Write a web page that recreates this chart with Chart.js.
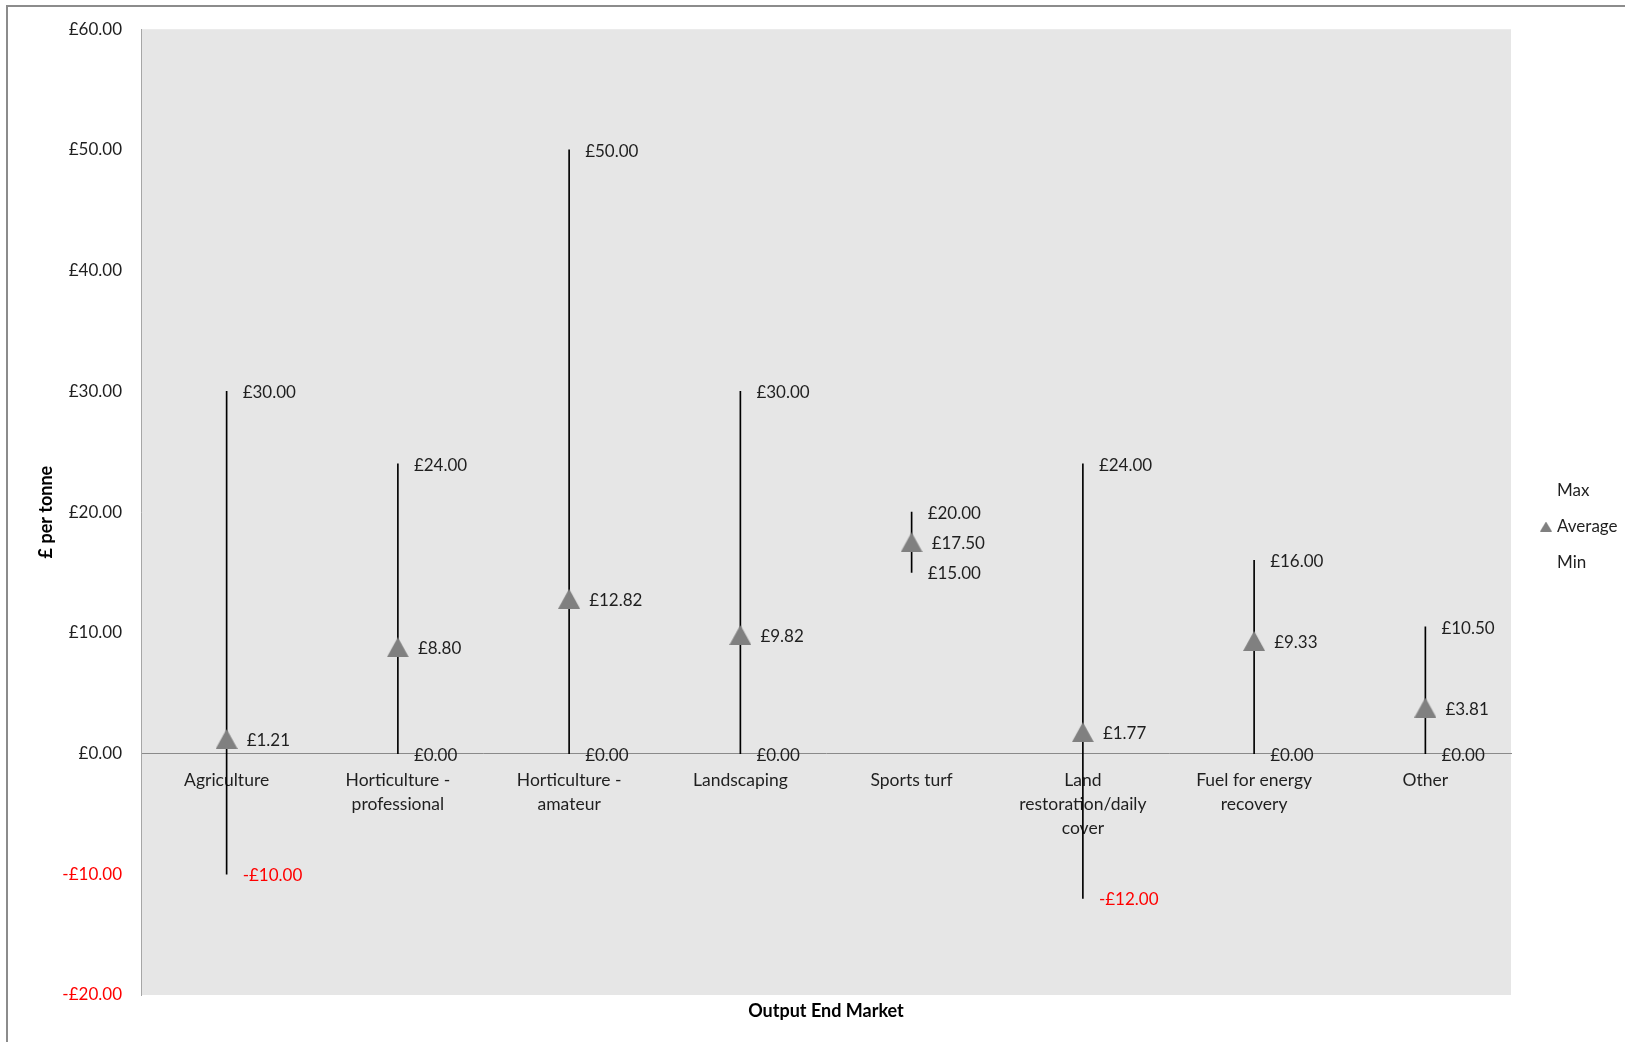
<!DOCTYPE html>
<html>
<head>
<meta charset="utf-8">
<title>Gate fees by output end market</title>
<script src="https://cdn.jsdelivr.net/npm/chart.js@4.4.1/dist/chart.umd.min.js"></script>
<style>
  html, body { margin: 0; padding: 0; background: #ffffff; }
  #wrap { width: 1625px; height: 1042px; }
  canvas { display: block; }
</style>
</head>
<body>
<div id="wrap"><canvas id="chart" width="1625" height="1042"></canvas></div>
<script>
// ---- data -------------------------------------------------------------
const categories = [
  'Agriculture',
  ['Horticulture -', 'professional'],
  ['Horticulture -', 'amateur'],
  'Landscaping',
  'Sports turf',
  ['Land', 'restoration/daily', 'cover'],
  ['Fuel for energy', 'recovery'],
  'Other'
];
const maxValues     = [30.00, 24.00, 50.00, 30.00, 20.00, 24.00, 16.00, 10.50];
const averageValues = [1.21, 8.80, 12.82, 9.82, 17.50, 1.77, 9.33, 3.81];
const minValues     = [-10.00, 0.00, 0.00, 0.00, 15.00, -12.00, 0.00, 0.00];
const yAxisRange    = [-20, 60];
const yAxisStep     = 10;
const seriesNames   = ['Max', 'Average', 'Min'];

// ---- styling ----------------------------------------------------------
const FONT = 'Lato';
const TEXT = '#1f1f1f';
const NEG = '#ff0000';
const MARKER = '#808080';

const money = v => (v < 0 ? '-£' : '£') + Math.abs(v).toFixed(2);

function triangleImage(w, h, color) {
  const c = document.createElement('canvas');
  c.width = w; c.height = h;
  const g = c.getContext('2d');
  g.fillStyle = color;
  g.beginPath();
  g.moveTo(w / 2, 0);
  g.lineTo(w, h);
  g.lineTo(0, h);
  g.closePath();
  g.fill();
  return c;
}
const bigTriangle = triangleImage(22, 20, MARKER);
const smallTriangle = triangleImage(12, 10, MARKER);
const blankMark = document.createElement('canvas');
blankMark.width = 1; blankMark.height = 1;

// Page frame and grey plot area
const frameAndPlot = {
  id: 'frameAndPlot',
  beforeDraw(chart) {
    const { ctx, chartArea: a } = chart;
    ctx.save();
    ctx.fillStyle = '#ffffff';
    ctx.fillRect(0, 0, chart.width, chart.height);
    ctx.fillStyle = '#e6e6e6';
    ctx.fillRect(a.left, a.top, a.right - a.left, a.bottom - a.top);
    ctx.strokeStyle = '#8c8c8c';
    ctx.lineWidth = 2;
    ctx.strokeRect(7, 6, chart.width + 50, chart.height + 50);
    ctx.restore();
  }
};

// Value labels beside the max / average / min points
const valueLabels = {
  id: 'valueLabels',
  afterDatasetsDraw(chart) {
    const ctx = chart.ctx;
    ctx.save();
    ctx.font = '17px ' + FONT;
    ctx.textAlign = 'left';
    ctx.textBaseline = 'middle';
    [[1, 16], [2, 20], [3, 16]].forEach(([di, dx]) => {
      const meta = chart.getDatasetMeta(di);
      const values = chart.data.datasets[di].data;
      meta.data.forEach((pt, i) => {
        const v = values[i];
        ctx.fillStyle = v < 0 ? NEG : TEXT;
        ctx.fillText(money(v), pt.x + dx, pt.y + 1.5);
      });
    });
    ctx.restore();
  }
};

// Sit the legend a little clear of the plot area, running to the page edge
const legendOffset = {
  id: 'legendOffset',
  afterLayout(chart) {
    const lg = chart.legend;
    if (!lg) return;
    lg.left += 13.5;
    lg.right = chart.width;
    lg.width = lg.right - lg.left;
    lg.top -= 3; lg.bottom -= 3;
  }
};

function build() {
  Chart.defaults.font.family = FONT;
  Chart.defaults.color = TEXT;

  new Chart(document.getElementById('chart'), {
    type: 'bar',
    data: {
      labels: categories,
      datasets: [
        {
          type: 'bar',
          label: 'High-Low',
          data: maxValues.map((v, i) => [minValues[i], v]),
          backgroundColor: '#000000',
          borderWidth: 0,
          barThickness: 1,
          order: 5
        },
        {
          type: 'line', label: seriesNames[0], data: maxValues,
          showLine: false, pointRadius: 0, pointHoverRadius: 0, order: 1
        },
        {
          type: 'line', label: seriesNames[1], data: averageValues,
          showLine: false, pointStyle: bigTriangle, pointRadius: 12, order: 1
        },
        {
          type: 'line', label: seriesNames[2], data: minValues,
          showLine: false, pointRadius: 0, pointHoverRadius: 0, order: 1
        }
      ]
    },
    options: {
      responsive: false,
      animation: false,
      events: [],
      layout: { padding: { left: 20, top: 29, right: 24, bottom: 12 } },
      scales: {
        x: {
          type: 'category',
          position: { y: 0 },
          offset: true,
          grid: { display: false, drawTicks: false },
          border: { display: true, color: '#8a8a8a', width: 1 },
          ticks: {
            autoSkip: false, maxRotation: 0, minRotation: 0,
            padding: 15,
            color: TEXT,
            font: { family: FONT, size: 17.5, lineHeight: '24px' }
          }
        },
        y: {
          min: yAxisRange[0],
          max: yAxisRange[1],
          grid: { display: false, drawTicks: false },
          border: { display: true, color: '#a6a6a6', width: 1 },
          ticks: {
            stepSize: yAxisStep,
            padding: 19,
            font: { family: FONT, size: 17 },
            color: c => (c.tick && c.tick.value < 0 ? NEG : TEXT),
            callback: v => money(v)
          },
          title: {
            display: true,
            text: '£ per tonne',
            color: '#000000',
            font: { family: FONT, size: 18, weight: 'bold' },
            padding: { top: 15.2, bottom: 0 }
          },
          afterFit(scale) { scale.width = 121; }
        }
      },
      plugins: {
        tooltip: { enabled: false },
        title: {
          display: true,
          position: 'bottom',
          fullSize: false,
          text: 'Output End Market',
          color: '#000000',
          font: { family: FONT, size: 18, weight: 'bold' },
          padding: { top: 5.7, bottom: 7.7 }
        },
        legend: {
          display: true,
          position: 'right',
          align: 'center',
          maxWidth: 90,
          labels: {
            usePointStyle: true,
            boxWidth: 5,
            boxHeight: 10,
            padding: 19,
            color: TEXT,
            font: { family: FONT, size: 17 },
            generateLabels: () => seriesNames.map((name, i) => ({
              text: name,
              datasetIndex: i + 1,
              pointStyle: name === 'Average' ? smallTriangle : blankMark,
              fillStyle: 'rgba(0,0,0,0)',
              strokeStyle: 'rgba(0,0,0,0)',
              lineWidth: 0,
              hidden: false,
              fontColor: TEXT
            }))
          }
        }
      }
    },
    plugins: [frameAndPlot, valueLabels, legendOffset]
  });
}

const fontReady = document.fonts && document.fonts.load
  ? Promise.all([
      document.fonts.load('17px ' + FONT),
      document.fonts.load('bold 18px ' + FONT)
    ]).catch(() => null)
  : Promise.resolve();
fontReady.then(build);
</script>
</body>
</html>
